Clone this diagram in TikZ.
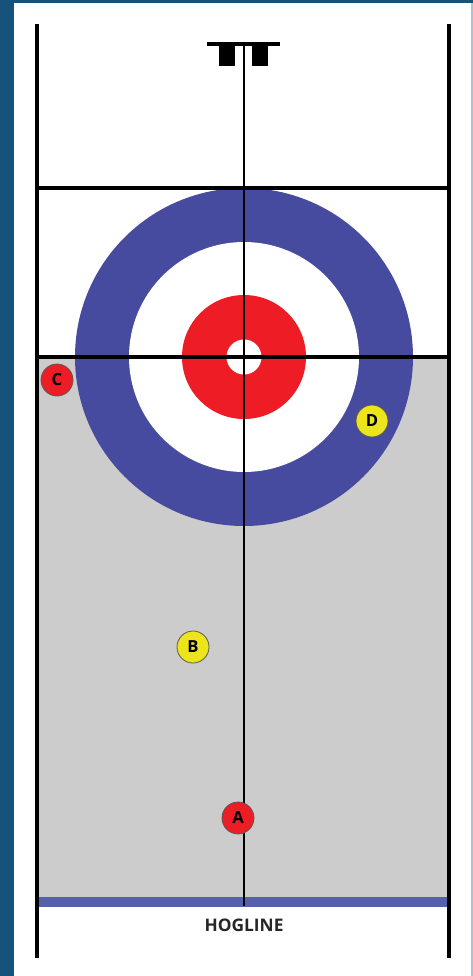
\documentclass[tikz,border=0pt]{standalone}
\usepackage{fontspec}
\setsansfont{Open Sans}
\usetikzlibrary{positioning}
\definecolor{frameblue}{HTML}{17527A}
\definecolor{ringblue}{HTML}{464B9F}
\definecolor{ringred}{HTML}{EE1D25}
\definecolor{stoneyel}{HTML}{EDE51C}
\definecolor{icegrey}{HTML}{CCCCCC}
\definecolor{hogblue}{HTML}{5562AA}

\begin{document}
\begin{tikzpicture}[
  x=0.75pt, y=-0.75pt,
  rink/.style={black, line width=2.6pt},
  stone/.style={circle, draw=black!65, line width=0.6pt, fill=#1, minimum size=24pt,
                inner sep=0pt, font=\sffamily\bfseries\fontsize{12.5}{12.5}\selectfont},
  lbl/.style={font=\sffamily\bfseries\fontsize{13}{13}\selectfont, text=black!85},
]
\useasboundingbox (0,0) rectangle (473,976);
% Frame
\fill[frameblue] (0,0) rectangle (473,976);
\fill[white] (14,3) rectangle (471,976);
\fill[frameblue!35] (471,3) rectangle (473,976);

% Ice and house
\fill[icegrey] (37,357) rectangle (449,897);
\coordinate (tee) at (244,357);
\fill[ringblue] (tee) circle[radius=169];
\fill[white] (tee) circle[radius=115];
\fill[ringred] (tee) circle[radius=62];
\fill[white] (tee) circle[radius=17.5];

% Hogline
\fill[hogblue] (37,897) rectangle (449,907);
\node[lbl] (hog) at (244,925) {HOGLINE};

% Lines
\coordinate (hack) at (244,44);
\coordinate (hogc) at (244,906);
\draw[rink, line width=2.1pt] (hack) -- (hogc);
\draw[rink] (37,188) -- (449,188);
\draw[rink] (35,357) -- (449,357);
\draw[rink] (37,24) -- (37,958);
\draw[rink] (449,24) -- (449,958);

% Hack
\draw[rink, line width=3pt] (207,44) -- (280,44);
\fill[black] (219,44) rectangle (235,66);
\fill[black] (252,44) rectangle (268,66);

% Stones
\node[stone=ringred] (stC) at (57,380) {C};
\node[stone=stoneyel] (stD) at (372,421) {D};
\node[stone=stoneyel] (stB) at (193,647) {B};
\node[stone=ringred] (stA) at (238,818) {A};
\end{tikzpicture}
\end{document}
